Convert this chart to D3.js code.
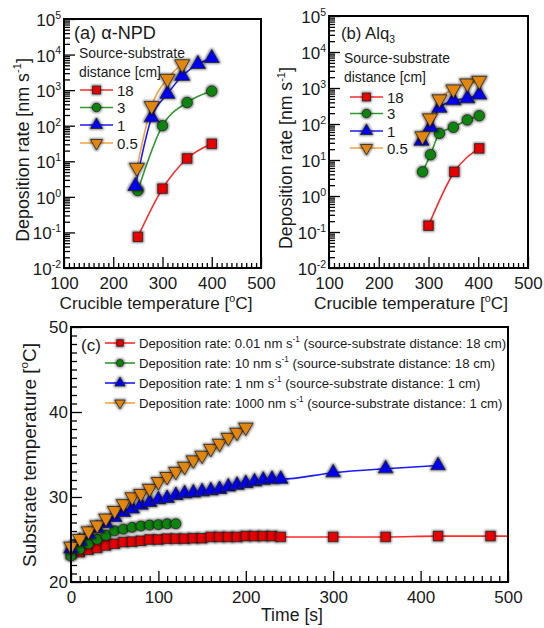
<!DOCTYPE html>
<html><head><meta charset="utf-8">
<script src="https://cdn.jsdelivr.net/npm/d3@7"></script>
<style>
body{margin:0;background:#fff}
svg{display:block}
text{font-family:"Liberation Sans",Arial,sans-serif;fill:#1a1a1a}
</style>
</head><body><svg id="chart" width="544" height="628"></svg>
<script>
// ---------------- DATA ----------------
// Panel (a) alpha-NPD : crucible temperature [°C] vs deposition rate [nm/s]
const aTemp18 = [250, 300, 350, 400];
const aRate18 = [0.075, 1.7, 12, 31];
const aTemp3  = [250, 300, 350, 400];
const aRate3  = [1.5, 100, 450, 940];
const aTemp1  = [245, 278, 310, 340, 372, 400];
const aRate1  = [2.0, 170, 780, 2500, 5400, 7900];
const aTemp05 = [248, 278, 310, 340];
const aRate05 = [6.6, 360, 2100, 5400];

// Panel (b) Alq3
const bTemp18 = [300, 352, 402];
const bRate18 = [0.15, 4.7, 21];
const bTemp3  = [288, 304, 322, 350, 378, 402];
const bRate3  = [4.7, 14, 55, 81, 130, 170];
const bTemp1  = [286, 304, 322, 350, 378, 402];
const bRate1  = [34, 82, 280, 450, 510, 650];
const bTemp05 = [288, 303, 322, 350, 378, 402];
const bRate05 = [46, 145, 490, 920, 1350, 1600];

const distanceLabels = ["18", "3", "1", "0.5"];

// Panel (c) substrate temperature vs time
const cTimeRed = [0,10,20,30,40,50,60,70,80,90,100,110,120,130,140,150,160,170,180,190,200,210,220,230,240,300,360,420,480];
const cTempRed = [23.3,23.5,23.8,24.0,24.3,24.5,24.7,24.75,24.85,25.0,25.0,25.1,25.1,25.1,25.15,25.15,25.3,25.3,25.3,25.3,25.4,25.4,25.4,25.4,25.3,25.3,25.3,25.4,25.4];
const cTimeGreen = [0,10,20,30,40,50,60,70,80,90,100,110,120];
const cTempGreen = [23.06,23.84,24.5,25.02,25.5,26.02,26.22,26.43,26.59,26.7,26.75,26.85,26.85];
const cTimeBlue = [0,10,20,30,40,50,60,70,80,90,100,110,120,130,140,150,160,170,180,190,200,210,220,230,240,300,360,420];
const cTempBlue = [23.9,24.8,25.6,26.3,26.9,27.6,28.2,28.6,29.06,29.37,29.7,29.85,30.2,30.4,30.5,30.63,30.75,30.9,31.2,31.4,31.6,31.8,32.0,32.1,32.1,32.86,33.33,33.7];
const cTimeOrange = [0,10,20,30,40,50,60,70,80,90,100,110,120,130,140,150,160,170,180,190,200];
const cTempOrange = [24.2,25.1,26.0,26.7,27.5,28.4,29.2,30.0,30.4,31.0,31.8,32.4,33.0,33.6,34.35,34.9,35.7,36.3,37.0,37.6,38.2];
const cLegendRates = ["0.01", "10", "1", "1000"];
const cLegendDist  = ["18", "18", "1", "1"];

const xTicksCrucible = [100, 200, 300, 400, 500];
const xTicksTime = [0, 100, 200, 300, 400, 500];
const yTicksTemp = [20, 30, 40, 50];

// ---------------- STYLE ----------------
const styles = [
  {line: "#ff2a2a", fill: "#e80000", shape: "square"},
  {line: "#2f9a2f", fill: "#0e840e", shape: "circle"},
  {line: "#1a1aff", fill: "#0000ee", shape: "up"},
  {line: "#f5a23c", fill: "#e2860f", shape: "down"}
];

const svg = d3.select("#chart");
const defs = svg.append("defs");
const f = defs.append("filter").attr("id","halo").attr("x","-60%").attr("y","-60%").attr("width","220%").attr("height","220%");
f.append("feMorphology").attr("in","SourceAlpha").attr("operator","dilate").attr("radius",0.8).attr("result","d");
f.append("feGaussianBlur").attr("in","d").attr("stdDeviation",0.9).attr("result","b");
f.append("feComponentTransfer").attr("in","b").attr("result","t").append("feFuncA").attr("type","linear").attr("slope",0.45);
const fm = f.append("feMerge"); fm.append("feMergeNode").attr("in","t"); fm.append("feMergeNode").attr("in","SourceGraphic");

function markerPath(shape, s) {
  if (shape === "square") return d3.symbol(d3.symbolSquare, s*s)();
  if (shape === "circle") return d3.symbol(d3.symbolCircle, Math.PI*s*s/4)();
  return d3.symbol(d3.symbolTriangle, s*s*0.62)();
}
function drawMarker(g, x, y, st, s) {
  g.append("path").attr("d", markerPath(st.shape, s))
    .attr("transform", `translate(${x},${y})` + (st.shape === "down" ? " rotate(180)" : ""))
    .attr("fill", st.fill).attr("stroke", "#222").attr("stroke-width", 0.8)
    .attr("filter", "url(#halo)");
}

function styleAxis(g) {
  g.select(".domain").remove();
  g.selectAll(".tick line").attr("stroke", "#000").attr("stroke-width", 1.3);
}

// rich text with superscripts/subscripts
function fillRich(sel, parts, fs) {
  sel.selectAll("tspan").remove();
  sel.attr("font-size", fs);
  const sub = fs * 0.62;
  let shift = 0;
  parts.forEach(p => {
    const ts = sel.append("tspan").text(p.t);
    let target = 0;
    if (p.sup) { ts.attr("font-size", sub); target = -fs*0.42; }
    else if (p.sub) { ts.attr("font-size", sub); target = fs*0.25; }
    if (target !== shift) { ts.attr("dy", target - shift); shift = target; }
  });
  if (shift !== 0) sel.append("tspan").attr("dy", -shift).text("");
  return sel;
}
// fit the text to a target advance length
function richText(sel, parts, fs, targetLen) {
  fillRich(sel, parts, fs);
  if (targetLen) {
    const len = sel.node().getComputedTextLength();
    if (len > 0) fillRich(sel, parts, fs * targetLen / len);
  }
  return sel;
}

// ---------------- LOG PANELS ----------------
function logPanel(cfg) {
  const {L, R, T, B} = cfg;
  const x = d3.scaleLinear().domain([100, 500]).range([L, R]);
  const y = d3.scaleLog().domain([0.01, 1e5]).range([B, T]);
  const g = svg.append("g");

  const majors = d3.range(-2, 6).map(k => Math.pow(10, k));
  const minors = [];
  d3.range(-2, 5).forEach(k => d3.range(2, 10).forEach(m => minors.push(m * Math.pow(10, k))));

  g.append("g").attr("transform", `translate(${L},0)`)
    .call(d3.axisLeft(y).tickValues(minors).tickSize(-6).tickFormat("")).call(styleAxis);
  g.append("g").attr("transform", `translate(${L},0)`)
    .call(d3.axisLeft(y).tickValues(majors).tickSize(-11).tickFormat("")).call(styleAxis);

  const xMinor = d3.range(110, 500, 10).filter(v => v % 100 !== 0);
  g.append("g").attr("transform", `translate(0,${B})`)
    .call(d3.axisBottom(x).tickValues(xMinor).tickSize(-5).tickFormat("")).call(styleAxis);
  const xa = g.append("g").attr("transform", `translate(0,${B})`)
    .call(d3.axisBottom(x).tickValues(xTicksCrucible).tickSize(-11).tickPadding(9).tickFormat(d3.format("d")));
  styleAxis(xa);
  xa.selectAll("text").attr("font-size", 17).attr("fill", "#1a1a1a").attr("font-family", null);

  majors.forEach(v => {
    const k = Math.round(Math.log10(v));
    const t = g.append("text").attr("x", L - 3).attr("y", y(v) + 7).attr("text-anchor", "end");
    richText(t, [{t: "10"}, {t: String(k), sup: true}], 17);
  });

  cfg.series.forEach((s, i) => {
    const st = styles[i];
    const pts = s.x.map((v, j) => [x(v), y(s.y[j])]);
    g.append("path").attr("d", d3.line().curve(d3.curveMonotoneX)(pts))
      .attr("fill", "none").attr("stroke", st.line).attr("stroke-width", 1.6);
  });
  cfg.series.forEach((s, i) => {
    const st = styles[i];
    s.x.forEach((v, j) => drawMarker(g, x(v), y(s.y[j]), st, st.shape === "square" ? 9.5 : st.shape === "circle" ? 10.5 : 12.5));
  });

  g.append("rect").attr("x", L).attr("y", T).attr("width", R - L).attr("height", B - T)
    .attr("fill", "none").attr("stroke", "#000").attr("stroke-width", 2);

  const tl = g.append("text").attr("x", cfg.titleX).attr("y", cfg.titleY);
  richText(tl, cfg.title, 17, cfg.titleLen);
  const s1 = g.append("text").attr("x", cfg.srcX).attr("y", cfg.srcY);
  richText(s1, [{t: "Source-substrate"}], 14, 106);
  const fsSrc = +s1.attr("font-size");
  g.append("text").attr("x", cfg.srcX).attr("y", cfg.srcY + 19).attr("font-size", fsSrc).text("distance [cm]");

  distanceLabels.forEach((lab, i) => {
    const st = styles[i];
    const yy = cfg.legY[i];
    g.append("line").attr("x1", cfg.legX0).attr("x2", cfg.legX0 + 33).attr("y1", yy).attr("y2", yy)
      .attr("stroke", st.line).attr("stroke-width", 1.6);
    drawMarker(g, cfg.legX0 + 16.5, yy, st, st.shape === "square" ? 8 : st.shape === "circle" ? 8.5 : 10);
    g.append("text").attr("x", cfg.legX0 + 37).attr("y", yy + 5.5).attr("font-size", 15).text(lab);
  });

  const yt = g.append("text").attr("transform", `translate(${cfg.yTitleX},${cfg.yTitleC}) rotate(-90)`)
    .attr("text-anchor", "middle");
  richText(yt, [{t: "Deposition rate [nm s"}, {t: "-1", sup: true}, {t: "]"}], 17, cfg.yTitleLen);
  const xt = g.append("text").attr("x", cfg.xTitleX).attr("y", 309).attr("text-anchor", "middle");
  richText(xt, [{t: "Crucible temperature ["}, {t: "o", sup: true}, {t: "C]"}], 17, cfg.xTitleLen);
}

logPanel({
  L: 64, R: 261, T: 19, B: 268,
  series: [{x: aTemp18, y: aRate18}, {x: aTemp3, y: aRate3}, {x: aTemp1, y: aRate1}, {x: aTemp05, y: aRate05}],
  title: [{t: "(a) \u03B1-NPD"}], titleX: 74, titleY: 39, titleLen: 82,
  srcX: 79, srcY: 58, legX0: 80, legY: [90, 107.5, 125, 143],
  yTitleX: 29, yTitleC: 150, yTitleLen: 184, xTitleX: 156, xTitleLen: 193
});
logPanel({
  L: 329, R: 528, T: 16, B: 268,
  series: [{x: bTemp18, y: bRate18}, {x: bTemp3, y: bRate3}, {x: bTemp1, y: bRate1}, {x: bTemp05, y: bRate05}],
  title: [{t: "(b) Alq"}, {t: "3", sub: true}], titleX: 341, titleY: 39, titleLen: 54,
  srcX: 344, srcY: 63, legX0: 350, legY: [97, 113.5, 131, 148],
  yTitleX: 292, yTitleC: 158, yTitleLen: 182, xTitleX: 411, xTitleLen: 194
});

// ---------------- PANEL C ----------------
(function () {
  const L = 71, R = 508, T = 327, B = 582;
  const x = d3.scaleLinear().domain([0, 500]).range([L, R]);
  const y = d3.scaleLinear().domain([20, 50]).range([B, T]);
  const g = svg.append("g");

  const xMinor = d3.range(10, 500, 10).filter(v => v % 100 !== 0);
  g.append("g").attr("transform", `translate(0,${B})`)
    .call(d3.axisBottom(x).tickValues(xMinor).tickSize(-6).tickFormat("")).call(styleAxis);
  const xa = g.append("g").attr("transform", `translate(0,${B})`)
    .call(d3.axisBottom(x).tickValues(xTicksTime).tickSize(-11).tickPadding(9).tickFormat(d3.format("d")));
  styleAxis(xa);
  xa.selectAll("text").attr("font-size", 17).attr("fill", "#1a1a1a").attr("font-family", null);

  const yMinor = d3.range(21, 50, 1).filter(v => v % 10 !== 0);
  g.append("g").attr("transform", `translate(${L},0)`)
    .call(d3.axisLeft(y).tickValues(yMinor).tickSize(-6).tickFormat("")).call(styleAxis);
  const ya = g.append("g").attr("transform", `translate(${L},0)`)
    .call(d3.axisLeft(y).tickValues(yTicksTemp).tickSize(-11).tickPadding(3).tickFormat(d3.format("d")));
  styleAxis(ya);
  ya.selectAll("text").attr("font-size", 17).attr("fill", "#1a1a1a").attr("font-family", null);

  const series = [
    {x: cTimeRed, y: cTempRed, extend: true},
    {x: cTimeGreen, y: cTempGreen},
    {x: cTimeBlue, y: cTempBlue},
    {x: cTimeOrange, y: cTempOrange}
  ];
  series.forEach((s, i) => {
    const st = styles[i];
    const pts = s.x.map((v, j) => [x(v), y(s.y[j])]);
    if (s.extend) pts.push([x.range()[1], y(s.y[s.y.length - 1])]);
    g.append("path").attr("d", d3.line().curve(d3.curveMonotoneX)(pts))
      .attr("fill", "none").attr("stroke", st.line).attr("stroke-width", 1.6);
  });
  series.forEach((s, i) => {
    const st = styles[i];
    s.x.forEach((v, j) => drawMarker(g, x(v), y(s.y[j]), st, st.shape === "square" ? 9.5 : st.shape === "circle" ? 10 : 12));
  });

  g.append("rect").attr("x", L).attr("y", T).attr("width", R - L).attr("height", B - T)
    .attr("fill", "none").attr("stroke", "#000").attr("stroke-width", 2);

  g.append("text").attr("x", 81).attr("y", 351).attr("font-size", 17).text("(c)");
  const legY = [343, 363, 383, 403];
  let legFs = 13.2;
  cLegendRates.forEach((r, i) => {
    const st = styles[i];
    const yy = legY[i];
    g.append("line").attr("x1", 105).attr("x2", 135).attr("y1", yy).attr("y2", yy)
      .attr("stroke", st.line).attr("stroke-width", 1.6);
    drawMarker(g, 120, yy, st, st.shape === "square" ? 6.5 : st.shape === "circle" ? 7 : 8.5);
    const t = g.append("text").attr("x", 139).attr("y", yy + 4.8);
    const parts = [{t: `Deposition rate: ${r} nm s`}, {t: "-1", sup: true},
                   {t: ` (source-substrate distance: ${cLegendDist[i]} cm)`}];
    if (i === 0) { richText(t, parts, 13.2, 367); legFs = +t.attr("font-size"); }
    else richText(t, parts, legFs);
  });

  const yt = g.append("text").attr("transform", `translate(36,455) rotate(-90)`)
    .attr("text-anchor", "middle");
  richText(yt, [{t: "Substrate temperature ["}, {t: "o", sup: true}, {t: "C]"}], 18, 224);
  const xt = g.append("text").attr("x", 292).attr("y", 621).attr("text-anchor", "middle");
  richText(xt, [{t: "Time [s]"}], 17, 62);
})();
</script>
</body></html>
